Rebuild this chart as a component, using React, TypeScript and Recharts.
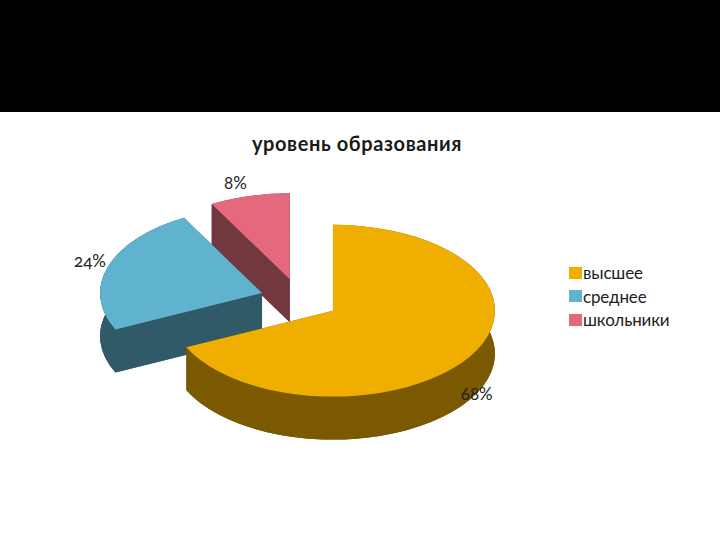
import { PieChart, Pie, Legend } from "recharts";

// drawn back to front, so the order is the reverse of the legend
const categories = ["школьники", "среднее", "высшее"];
const shares = [8, 24, 68];
const topColors = ["#E5697C", "#60B3CF", "#F0AE00"];
const wallColors = ["#733740", "#315A68", "#7A5900"];

const tableData = categories.map((name, i) => ({ name, value: shares[i], fill: topColors[i], wall: wallColors[i] }));

const SQUASH = 0.53;
const DEPTH = 43;
const EXPLODE = 39.5;
const RAD = Math.PI / 180;
const FONT = "Lato, 'Open Sans', sans-serif";

// label nudges from the default spot, same order as categories
const labelNudge = [
  { dx: -14, dy: -14 },
  { dx: -18, dy: -6 },
  { dx: 7, dy: 37 },
];

function Slice3D(props: any) {
  const { cx, cy, outerRadius: r, startAngle, endAngle, fill, wall } = props;
  const mid = ((startAngle + endAngle) / 2) * RAD;
  const ox = cx + EXPLODE * Math.cos(mid);
  const oy = cy - EXPLODE * Math.sin(mid) * SQUASH;
  const ry = r * SQUASH;
  const pt = (a: number, dy = 0) => ({
    x: ox + r * Math.cos(a * RAD),
    y: oy - ry * Math.sin(a * RAD) + dy,
  });
  const large = Math.abs(endAngle - startAngle) > 180 ? 1 : 0;
  const s = pt(startAngle);
  const e = pt(endAngle);
  const sb = pt(startAngle, DEPTH);
  const eb = pt(endAngle, DEPTH);
  const top = `M${ox},${oy} L${s.x},${s.y} A${r},${ry} 0 ${large} 0 ${e.x},${e.y} Z`;
  const base = `M${ox},${oy + DEPTH} L${sb.x},${sb.y} A${r},${ry} 0 ${large} 0 ${eb.x},${eb.y} Z`;
  const rim = `M${s.x},${s.y} A${r},${ry} 0 ${large} 0 ${e.x},${e.y} L${eb.x},${eb.y} A${r},${ry} 0 ${large} 1 ${sb.x},${sb.y} Z`;
  const cut1 = `M${ox},${oy} L${s.x},${s.y} L${sb.x},${sb.y} L${ox},${oy + DEPTH} Z`;
  const cut2 = `M${ox},${oy} L${e.x},${e.y} L${eb.x},${eb.y} L${ox},${oy + DEPTH} Z`;
  return (
    <g>
      <path d={base} fill={wall} />
      <path d={cut1} fill={wall} />
      <path d={cut2} fill={wall} />
      <path d={rim} fill={wall} />
      <path d={top} fill={fill} />
    </g>
  );
}

function renderLabel(props: any) {
  const { cx, cy, outerRadius: r, midAngle, value, index } = props;
  const a = midAngle * RAD;
  const x = cx + (r + EXPLODE) * Math.cos(a) + labelNudge[index].dx;
  const y = cy - (r + EXPLODE) * Math.sin(a) * SQUASH + labelNudge[index].dy;
  return (
    <text x={x} y={y} textAnchor="middle" dominantBaseline="central" fontFamily={FONT} fontWeight={400} fontSize={17} fill="#222" style={{ fontVariantNumeric: "oldstyle-nums" }}>
      {value}%
    </text>
  );
}

function renderLegend({ payload }: any) {
  return (
    <div style={{ fontFamily: FONT, fontWeight: 400, fontSize: 17, letterSpacing: -0.15, color: "#222" }}>
      {(payload || []).map((p: any) => (
        <div key={p.value} style={{ display: "flex", alignItems: "center", height: 23.5 }}>
          <span style={{ width: 13, height: 12, background: p.color, marginRight: 1 }} />
          {p.value}
        </div>
      ))}
    </div>
  );
}

export default function App() {
  return (
    <div style={{ position: "relative", width: 720, height: 540, background: "#fff", overflow: "hidden" }}>
      <style>{`body{margin:0}`}</style>
      <div style={{ position: "absolute", left: 0, top: 0, width: 720, height: 112, background: "#000" }} />
      <div style={{ position: "absolute", left: 0, top: 131, width: 714, textAlign: "center", fontFamily: FONT, fontWeight: 700, fontSize: 20, letterSpacing: 0.6, color: "#1a1a1a" }}>
        уровень образования
      </div>
      <div style={{ position: "absolute", left: 0, top: 0 }}>
        <PieChart width={720} height={540} margin={{ top: 0, right: 0, bottom: 0, left: 0 }}>
          <Pie
            data={tableData}
            dataKey="value"
            nameKey="name"
            cx={299.6}
            cy={299.5}
            outerRadius={162}
            startAngle={90}
            endAngle={450}
            stroke="none"
            shape={Slice3D}
            label={renderLabel}
            labelLine={false}
            isAnimationActive={false}
          />
          <Legend content={renderLegend} wrapperStyle={{ position: "absolute", left: 569, top: 261, width: 130, bottom: "auto" }} />
        </PieChart>
      </div>
    </div>
  );
}
